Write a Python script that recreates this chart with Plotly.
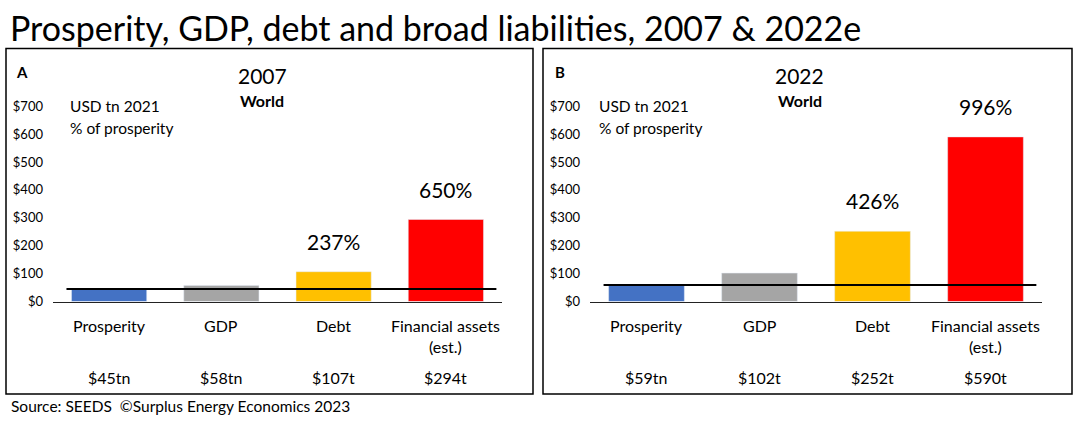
import plotly.graph_objects as go

W, H = 1078, 427

categories = ["Prosperity", "GDP", "Debt", "Financial assets<br>(est.)"]
values_2007 = [45, 58, 107, 294]
values_2022 = [59, 102, 252, 590]
value_labels_2007 = ["$45tn", "$58tn", "$107t", "$294t"]
value_labels_2022 = ["$59tn", "$102t", "$252t", "$590t"]
pct_labels_2007 = ["", "", "237%", "650%"]
pct_labels_2022 = ["", "", "426%", "996%"]
bar_colors = ["#4472C4", "#A5A5A5", "#FFC000", "#FF0000"]
y_ticks = [0, 100, 200, 300, 400, 500, 600, 700]
y_tick_text = ["$" + str(v) for v in y_ticks]

FONT = "Lato"


def px(x):
    return x / W


def py(y):
    return 1 - y / H


fig = go.Figure()

panels = [
    dict(xa="x", ya="y", vals=values_2007, vlabels=value_labels_2007, pcts=pct_labels_2007,
         letter="A", year="2007", box=(6, 533), letter_x=14, title_x=262, note_x=68),
    dict(xa="x2", ya="y2", vals=values_2022, vlabels=value_labels_2022, pcts=pct_labels_2022,
         letter="B", year="2022", box=(543, 1072), letter_x=553, title_x=800, note_x=597),
]

shapes = []
annotations = []
for p in panels:
    xs = list(range(len(categories)))
    fig.add_trace(go.Bar(x=xs, y=p["vals"], marker_color=bar_colors, width=0.67,
                         xaxis=p["xa"], yaxis=p["ya"], showlegend=False, hoverinfo="y"))
    # prosperity reference line
    fig.add_trace(go.Scatter(x=[-0.38, 3.45], y=[p["vals"][0], p["vals"][0]], mode="lines",
                             line=dict(color="black", width=2), xaxis=p["xa"], yaxis=p["ya"],
                             showlegend=False, hoverinfo="skip"))
    # panel border
    shapes.append(dict(type="rect", xref="paper", yref="paper",
                       x0=px(p["box"][0]), x1=px(p["box"][1]), y0=py(401), y1=py(42),
                       line=dict(color="black", width=1.5)))
    xr = p["xa"]
    yr = p["ya"]
    for i, c in enumerate(categories):
        annotations.append(dict(x=i, xref=xr, y=py(318), yref="paper", text=c, showarrow=False,
                                yanchor="top", xanchor="center",
                                font=dict(family=FONT, size=16, color="black")))
        annotations.append(dict(x=i, xref=xr, y=py(384), yref="paper", text=p["vlabels"][i],
                                showarrow=False, yanchor="middle", xanchor="center",
                                font=dict(family=FONT, size=16, color="black")))
        if p["pcts"][i]:
            annotations.append(dict(x=i, xref=xr, y=p["vals"][i], yref=yr, text=p["pcts"][i],
                                    showarrow=False, yanchor="bottom", xanchor="center", yshift=16,
                                    font=dict(family=FONT, size=21, color="black")))
    annotations.append(dict(x=px(p["letter_x"]), y=py(67), xref="paper", yref="paper",
                            text="<b>" + p["letter"] + "</b>", showarrow=False,
                            xanchor="left", yanchor="middle",
                            font=dict(family=FONT, size=15, color="black")))
    annotations.append(dict(x=px(p["title_x"]), y=py(70), xref="paper", yref="paper",
                            text=p["year"], showarrow=False, xanchor="center", yanchor="middle",
                            font=dict(family=FONT, size=21, color="black")))
    annotations.append(dict(x=px(p["title_x"]), y=py(96), xref="paper", yref="paper",
                            text="<b>World</b>", showarrow=False, xanchor="center", yanchor="middle",
                            font=dict(family=FONT, size=16, color="black")))
    annotations.append(dict(x=px(p["note_x"]), y=py(102), xref="paper", yref="paper",
                            text="USD tn 2021", showarrow=False, xanchor="left", yanchor="middle",
                            font=dict(family=FONT, size=15.5, color="black")))
    annotations.append(dict(x=px(p["note_x"]), y=py(125), xref="paper", yref="paper",
                            text="% of prosperity", showarrow=False, xanchor="left", yanchor="middle",
                            font=dict(family=FONT, size=15.5, color="black")))

annotations.append(dict(x=px(8), y=py(20), xref="paper", yref="paper",
                        text="Prosperity, GDP, debt and broad liabilities, 2007 & 2022e",
                        showarrow=False, xanchor="left", yanchor="middle",
                        font=dict(family=FONT, size=34, color="black")))
annotations.append(dict(x=px(9), y=py(414), xref="paper", yref="paper",
                        text="Source: SEEDS  ©Surplus Energy Economics 2023",
                        showarrow=False, xanchor="left", yanchor="middle",
                        font=dict(family=FONT, size=15.5, color="black")))

ydom = [py(305), py(102)]
common_x = dict(range=[-0.5, 3.5], showticklabels=False, showgrid=False, zeroline=False,
                showline=True, linecolor="#222", linewidth=1, ticks="", fixedrange=True)
common_y = dict(range=[0, 700], tickvals=y_ticks, ticktext=y_tick_text, showgrid=False,
                zeroline=False, showline=False, ticks="", ticklabelstandoff=9,
                tickfont=dict(family=FONT, size=13, color="black"), domain=ydom)

fig.update_layout(
    width=W, height=H, margin=dict(l=0, r=0, t=0, b=0),
    paper_bgcolor="white", plot_bgcolor="white", bargap=0.33,
    xaxis=dict(domain=[px(53), px(502)], anchor="y", **common_x),
    yaxis=dict(anchor="x", **common_y),
    xaxis2=dict(domain=[px(590), px(1042)], anchor="y2", **common_x),
    yaxis2=dict(anchor="x2", **common_y),
    shapes=shapes, annotations=annotations,
    font=dict(family=FONT, color="black"),
)

fig.write_html("out.html", config={"displayModeBar": False},
               post_script="document.body.style.margin='0';document.body.style.overflow='hidden';")
